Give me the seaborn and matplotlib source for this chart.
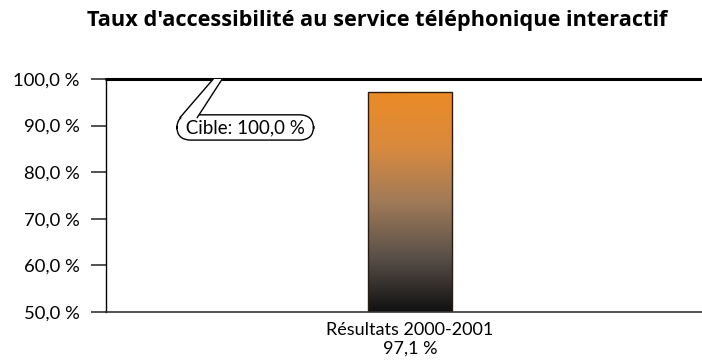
import numpy as np
import pandas as pd
import matplotlib
matplotlib.use("Agg")
import matplotlib.pyplot as plt
import seaborn as sns
from matplotlib.colors import LinearSegmentedColormap
from matplotlib.patches import Polygon
from matplotlib.lines import Line2D
import matplotlib.transforms as mtransforms

categories = ["Résultats 2000-2001\n97,1 %"]
values = [97.1]
target = 100.0
target_label = "Cible: 100,0 %"
yticks = [50, 60, 70, 80, 90, 100]
ytick_labels = ["50,0 %", "60,0 %", "70,0 %", "80,0 %", "90,0 %", "100,0 %"]
title = "Taux d'accessibilité au service téléphonique interactif"

sns.set_theme(style="white")
plt.rcParams["font.family"] = ["Lato", "DejaVu Sans"]

fig = plt.figure(figsize=(7.02, 3.60), dpi=100)
ax = fig.add_axes([0.151, 0.1333, 0.849, 0.6473])

df = pd.DataFrame({"cat": categories, "val": values})
sns.barplot(data=df, x="cat", y="val", ax=ax, width=0.14,
            color="#E8892A", edgecolor="#2a1c10", linewidth=1.0)

# vertical gradient fill clipped to the bar
cmap = LinearSegmentedColormap.from_list(
    "bar", ["#111111", "#5a5048", "#a07a58", "#d98a3e", "#ec8a26"])
for patch in ax.patches:
    x0, y0 = patch.get_x(), 50
    x1, y1 = x0 + patch.get_width(), patch.get_y() + patch.get_height()
    grad = np.linspace(0, 1, 256).reshape(-1, 1)
    im = ax.imshow(grad, extent=[x0, x1, y0, y1], origin="lower",
                   cmap=cmap, aspect="auto", zorder=patch.get_zorder() + 0.1)
    im.set_clip_path(patch)
    patch.set_facecolor("none")
    patch.set_zorder(patch.get_zorder() + 0.2)
ax.set_xlim(-0.51, 0.49)
ax.set_ylim(50, 100)

# target line
ax.axhline(target, color="black", lw=2.2, zorder=5, clip_on=False)

# callout for the target: rounded box with an open pointer up to the line
trans = mtransforms.blended_transform_factory(ax.transAxes, ax.transData)
ax.text(0.2335, 89.6, "\u00a0" + target_label + "\u00a0", transform=trans,
        ha="center", va="center", fontsize=13.5, color="black", zorder=6,
        bbox=dict(boxstyle="round,pad=0.22,rounding_size=0.75",
                  fc="white", ec="black", lw=1.0))
pointer = [(0.124, 91.7), (0.153, 91.7), (0.195, target), (0.180, target)]
ax.add_patch(Polygon(pointer, closed=True, transform=trans,
                     facecolor="white", edgecolor="none", zorder=7))
for (xa, ya), (xb, yb) in [(pointer[0], pointer[3]), (pointer[1], pointer[2])]:
    ax.add_line(Line2D([xa, xb], [ya, yb], transform=trans,
                       color="black", lw=1.0, zorder=8))

ax.set_yticks(yticks)
ax.set_yticklabels(ytick_labels, fontsize=13.3, color="black")
ax.tick_params(axis="y", length=11, width=1.2, color="#333333", pad=8, left=True)
ax.tick_params(axis="x", length=0, labelsize=13, pad=7, labelcolor="black")
for lbl in ax.get_xticklabels():
    lbl.set_linespacing(1.2)
ax.set_xlabel("")
ax.set_ylabel("")

for side in ["top", "right"]:
    ax.spines[side].set_visible(False)
ax.spines["left"].set_color("black")
ax.spines["left"].set_linewidth(1.0)
ax.spines["bottom"].set_color("#333333")
ax.spines["bottom"].set_linewidth(1.2)

fig.text(0.537, 0.942, title, ha="center", va="center",
         fontsize=15.7, fontweight="bold", color="black",
         family=["Open Sans", "DejaVu Sans"])

fig.savefig("out.png", dpi=100)
